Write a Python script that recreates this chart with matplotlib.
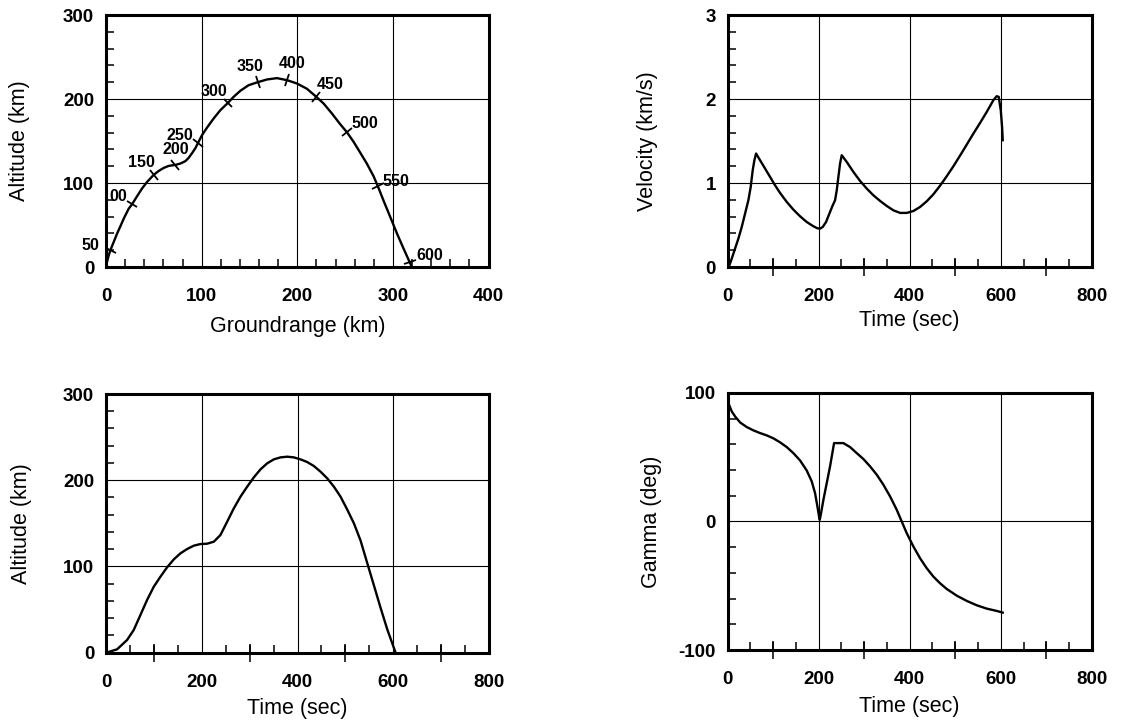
"""
Trayectoria de vuelo: altitud, velocidad y ángulo de trayectoria
Cuatro paneles con rejilla solo en las divisiones principales
"""

import numpy as np
import matplotlib
matplotlib.use("Agg")
import matplotlib.pyplot as plt
from matplotlib.markers import MarkerStyle
from matplotlib.transforms import Affine2D
from matplotlib.ticker import MultipleLocator, FixedLocator

plt.rcParams['font.family'] = ['Liberation Sans', 'DejaVu Sans']
plt.rcParams['axes.unicode_minus'] = False

# ---------------------------------------------------------------------------
# Datos
# ---------------------------------------------------------------------------

# Altitud vs alcance (km)
groundrange = [0, 1.0, 2.8, 4.5, 8.0, 11.5, 15.0, 18.5, 23.7, 27.2, 32.4, 37.6,
               42.9, 49.8, 55.1, 60.3, 65.5, 72.5, 77.7, 82.9, 86.4, 89.9, 93.4,
               96.2, 100.3, 105.6, 112.5, 119.5, 127.5, 133.4, 140.4, 149.1,
               158.5, 168.3, 178.7, 189.2, 199.7, 210.1, 219.9, 227.5, 236.2,
               244.9, 251.9, 258.9, 265.9, 272.8, 279.8, 284.3, 290.2, 297.2,
               304.2, 311.1, 317.4, 318.8]
altitude_gr = [2, 6, 13.9, 19.9, 29.8, 39.7, 48.5, 57.6, 69.5, 74.7, 84.2, 93.4,
               101.3, 109.7, 114.4, 118, 120.4, 121.6, 123.2, 126, 130, 135.5,
               141.5, 147.8, 156.9, 166, 176.8, 186.7, 195.5, 202.6, 209.8,
               216.5, 220, 223.3, 224.9, 222.5, 218.5, 212.2, 202.6, 194.7,
               182.8, 170, 160.5, 149, 136, 123, 108, 96, 79, 59.6, 40, 22, 6, 2.5]

# Marcas de tiempo sobre la trayectoria (s)
mark_times = ["50", "00", "150", "200", "250", "300", "350", "400", "450",
              "500", "550", "600"]
mark_range = [4.5, 27.2, 49.8, 72.5, 96.2, 127.5, 158.5, 189.2, 219.9, 251.9,
              284.3, 317.4]
mark_alt = [19.9, 74.7, 109.7, 121.6, 147.8, 195.5, 220, 222.5, 202.6, 160.5,
            96, 6]
label_range = [-16.5, 13.2, 36.6, 72.5, 77.7, 112.5, 150.9, 194.4, 234.5, 270.4,
               303, 339]
label_alt = [26, 83.4, 124, 140, 157, 208.6, 238.4, 242.3, 217.3, 170.8, 102, 13.5]

# Velocidad vs tiempo
t_vel = [0, 2.9, 8.8, 16.1, 23.4, 30.8, 38.1, 45.4, 50.5, 54.9, 58.6, 62.3,
         71.1, 82.1, 93, 104, 115, 129.7, 144.3, 159, 173.6, 188.3, 197.1,
         202.9, 208.8, 216.1, 223.4, 230.8, 235.9, 239.6, 243.2, 246.9, 250.5,
         261.5, 276.2, 290.8, 305.5, 320.1, 334.8, 349.5, 364.1, 378.8, 393.4,
         408.1, 422.7, 437.4, 452, 466.7, 481.3, 496, 510.6, 525.3, 539.9,
         554.6, 569.2, 583.9, 591.2, 595.6, 600, 602.9, 604.4]
velocity = [0, 0.01, 0.099, 0.219, 0.338, 0.477, 0.636, 0.795, 0.954, 1.152,
            1.271, 1.351, 1.271, 1.172, 1.073, 0.973, 0.882, 0.775, 0.683,
            0.604, 0.536, 0.485, 0.461, 0.457, 0.477, 0.536, 0.636, 0.735,
            0.795, 0.914, 1.073, 1.232, 1.331, 1.251, 1.132, 1.025, 0.934,
            0.854, 0.787, 0.727, 0.675, 0.644, 0.644, 0.667, 0.715, 0.783,
            0.866, 0.969, 1.081, 1.2, 1.327, 1.458, 1.589, 1.716, 1.847, 1.987,
            2.034, 2.026, 1.867, 1.669, 1.51]

# Altitud vs tiempo
t_alt = [0, 23, 43.9, 57.8, 71.8, 85.7, 99.7, 113.6, 127.5, 141.5, 155.4,
         169.3, 183.3, 197.2, 211.1, 225.1, 239, 253, 266.9, 280.8, 294.8,
         308.7, 322.6, 336.6, 350.5, 364.5, 378.4, 392.3, 406.3, 420.2, 434.1,
         448.1, 462, 476, 489.9, 503.8, 517.8, 531.7, 545.6, 559.6, 573.5,
         587.5, 604.9]
altitude_t = [0, 3.9, 14.7, 26.3, 43.7, 61.1, 76.5, 88.1, 99, 108.2, 115.2,
              120.2, 124.1, 126, 126.4, 128.7, 136.5, 151.9, 167.4, 180.9,
              192.5, 203.3, 212.6, 219.6, 224.2, 226.5, 227.3, 226.5, 224.2,
              221.1, 216.5, 209.9, 202.2, 192.5, 180.9, 166, 150, 130, 104,
              78, 52, 27, 0]

# Ángulo de trayectoria (gamma) vs tiempo
t_gam = [2.9, 8.8, 16.1, 27.1, 41.8, 56.4, 71.1, 85.7, 100.4, 115, 129.7,
         144.3, 159, 173.6, 184.6, 191.9, 197.1, 200.7, 202.2, 205.1, 210.3,
         217.6, 224.9, 233.7, 254.2, 268.9, 283.5, 298.2, 312.8, 327.5, 342.1,
         356.8, 371.4, 382.4, 393.4, 408.1, 422.7, 437.4, 452, 466.7, 481.3,
         503.3, 525.3, 547.3, 569.2, 591.2, 604.4]
gamma = [90.9, 85.7, 81.8, 77.1, 73.5, 70.9, 68.8, 67, 64.7, 61.6, 57.9, 53.2,
         47.5, 39.7, 31.2, 22.1, 11.7, 3.9, 1.3, 6.5, 16.9, 29.9, 42.9, 61, 61,
         57.9, 53.2, 48.6, 42.9, 36.4, 28.6, 19.5, 9.1, 0, -9.1, -19.5, -28.6,
         -36.4, -42.9, -48.1, -52.5, -57.7, -61.8, -65.2, -67.8, -69.6, -70.9]


# ---------------------------------------------------------------------------
# Estilo de ejes
# ---------------------------------------------------------------------------

def estilo_base(ax, xlim, ylim, xmajor, ymajor, yminor):
    """Marco grueso, rejilla en las divisiones principales, ticks hacia dentro"""
    ax.set_xlim(*xlim)
    ax.set_ylim(*ylim)
    for s in ax.spines.values():
        s.set_linewidth(2.2)
    ax.xaxis.set_major_locator(MultipleLocator(xmajor))
    ax.yaxis.set_major_locator(MultipleLocator(ymajor))
    ax.yaxis.set_minor_locator(MultipleLocator(yminor))
    ax.grid(True, which='major', color='black', linewidth=0.8)
    ax.tick_params(which='major', length=0, labelsize=13.5)
    ax.tick_params(axis='x', which='major', pad=15)
    ax.tick_params(axis='y', which='major', pad=8.5)
    ax.tick_params(which='minor', direction='in', length=6, width=1.1)
    for lab in ax.get_xticklabels() + ax.get_yticklabels():
        lab.set_fontweight('bold')


def ticks_tiempo(ax):
    """Eje de tiempo: ticks cada 50 s, y los de 100/300/500/700 cruzan el eje"""
    ax.xaxis.set_minor_locator(MultipleLocator(50))
    sec = ax.secondary_xaxis('bottom')
    sec.xaxis.set_major_locator(FixedLocator([100, 300, 500, 700]))
    sec.tick_params(direction='inout', length=13, width=1.1, labelbottom=False)
    sec.spines['bottom'].set_visible(False)


fig = plt.figure(figsize=(11.33, 7.24), dpi=100)

ax1 = fig.add_axes([0.0936, 0.6312, 0.3376, 0.348])
ax2 = fig.add_axes([0.6423, 0.6312, 0.3213, 0.348])
ax3 = fig.add_axes([0.0936, 0.0985, 0.3380, 0.3573])
ax4 = fig.add_axes([0.6423, 0.1022, 0.3213, 0.355])

lw = 1.7

# --- Panel 1: altitud vs alcance ---
estilo_base(ax1, (0, 400), (0, 300), 100, 100, 20)
ax1.xaxis.set_minor_locator(MultipleLocator(20))
ax1.plot(groundrange, altitude_gr, color='black', linewidth=lw)

# marcas perpendiculares a la curva
pts = ax1.transData.transform(np.column_stack([mark_range, mark_alt]))
ang = np.degrees(np.arctan2(np.gradient(pts[:, 1]), np.gradient(pts[:, 0])))
for x, y, a in zip(mark_range, mark_alt, ang):
    m = MarkerStyle('|', transform=Affine2D().rotate_deg(a))
    ax1.plot(x, y, marker=m, markersize=9, markeredgewidth=1.3, color='black')
for txt, x, y in zip(mark_times, label_range, label_alt):
    ax1.text(x, y, txt, fontsize=11.5, fontweight='bold', ha='center', va='center')

ax1.set_xlabel('Groundrange (km)', fontsize=15.5)
ax1.set_ylabel('Altitude (km)', fontsize=15.5)
ax1.xaxis.set_label_coords(0.5, -0.195)
ax1.yaxis.set_label_coords(-0.199, 0.5)

# --- Panel 2: velocidad ---
estilo_base(ax2, (0, 800), (0, 3), 200, 1, 0.2)
ticks_tiempo(ax2)
ax2.plot(t_vel, velocity, color='black', linewidth=lw)
ax2.set_xlabel('Time (sec)', fontsize=15.5)
ax2.set_ylabel('Velocity (km/s)', fontsize=15.5)
ax2.xaxis.set_label_coords(0.5, -0.17)
ax2.yaxis.set_label_coords(-0.191, 0.5)

# --- Panel 3: altitud vs tiempo ---
estilo_base(ax3, (0, 800), (0, 300), 200, 100, 20)
ticks_tiempo(ax3)
ax3.plot(t_alt, altitude_t, color='black', linewidth=lw)
ax3.set_xlabel('Time (sec)', fontsize=15.5)
ax3.set_ylabel('Altitude (km)', fontsize=15.5)
ax3.xaxis.set_label_coords(0.5, -0.175)
ax3.yaxis.set_label_coords(-0.194, 0.5)

# --- Panel 4: gamma ---
estilo_base(ax4, (0, 800), (-100, 100), 200, 100, 20)
ticks_tiempo(ax4)
ax4.plot(t_gam, gamma, color='black', linewidth=lw)
ax4.set_xlabel('Time (sec)', fontsize=15.5)
ax4.set_ylabel('Gamma (deg)', fontsize=15.5)
ax4.xaxis.set_label_coords(0.5, -0.18)
ax4.yaxis.set_label_coords(-0.181, 0.5)

plt.savefig('out.png', dpi=100)
